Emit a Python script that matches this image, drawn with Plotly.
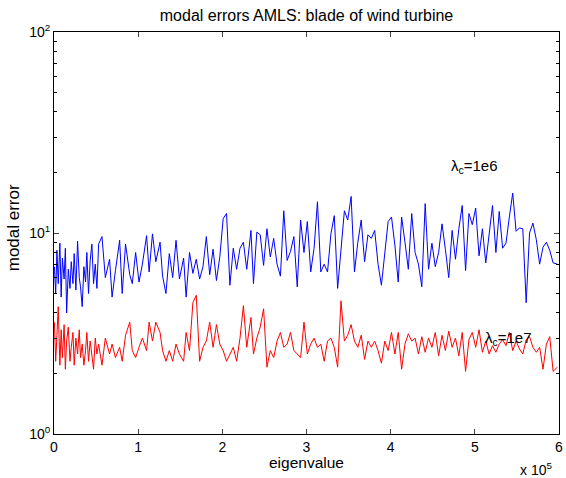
import plotly.graph_objects as go

# eigenvalue positions (in units of 1e5) and modal errors
eig = [0.005, 0.02, 0.035, 0.05, 0.07, 0.085, 0.10, 0.12, 0.135, 0.15,
       0.17, 0.19, 0.205, 0.225, 0.24, 0.26, 0.28, 0.30, 0.315, 0.335,
       0.355, 0.375, 0.39, 0.41, 0.43, 0.45, 0.47, 0.49, 0.51, 0.53,
       0.57, 0.61, 0.66, 0.69, 0.73, 0.78, 0.81, 0.85, 0.90, 0.93,
       0.97, 1.01, 1.05, 1.10, 1.13, 1.17, 1.21, 1.26, 1.29, 1.33,
       1.37, 1.41, 1.45, 1.49, 1.54, 1.57, 1.61, 1.65, 1.69, 1.73,
       1.77, 1.81, 1.85, 1.89, 1.93, 1.97, 2.01, 2.05, 2.09, 2.13,
       2.17, 2.21, 2.25, 2.29, 2.34, 2.37, 2.41, 2.45, 2.49, 2.53,
       2.57, 2.61, 2.65, 2.69, 2.73, 2.77, 2.81, 2.85, 2.89, 2.93,
       2.97, 3.01, 3.05, 3.09, 3.13, 3.17, 3.21, 3.25, 3.29, 3.33,
       3.37, 3.41, 3.45, 3.49, 3.53, 3.57, 3.61, 3.65, 3.69, 3.73,
       3.77, 3.81, 3.85, 3.89, 3.93, 3.97, 4.01, 4.05, 4.09, 4.13,
       4.17, 4.21, 4.25, 4.29, 4.33, 4.37, 4.41, 4.45, 4.49, 4.53,
       4.57, 4.61, 4.65, 4.69, 4.73, 4.77, 4.81, 4.85, 4.89, 4.93,
       4.97, 5.01, 5.05, 5.09, 5.13, 5.17, 5.21, 5.25, 5.29, 5.33,
       5.37, 5.41, 5.45, 5.49, 5.53, 5.57, 5.61, 5.65, 5.69, 5.73,
       5.77, 5.81, 5.85, 5.89, 5.93, 5.98]

err_1e6 = [6.8, 5.0, 8.2, 5.6, 8.9, 4.8, 7.5, 5.9, 8.4, 4.0,
           6.6, 5.3, 7.2, 5.6, 7.9, 5.2, 9.1, 6.0, 5.4, 4.3,
           6.8, 5.7, 8.0, 5.0, 7.3, 8.8, 5.6, 7.0, 5.3, 8.8,
           9.6, 6.0, 7.4, 4.8, 6.5, 9.2, 5.0, 8.8, 6.2, 5.6,
           8.0, 5.7, 7.0, 9.7, 6.4, 9.9, 7.2, 9.0, 6.1, 5.0,
           7.9, 6.0, 9.2, 5.9, 7.5, 4.8, 8.0, 6.3, 7.4, 5.9,
           6.8, 9.6, 6.2, 8.3, 5.8, 7.6, 11.8, 12.5, 5.5, 8.4,
           6.6, 8.4, 9.0, 6.6, 10.3, 5.6, 10.1, 9.8, 6.9, 10.5,
           7.6, 9.4, 7.0, 6.1, 12.9, 7.3, 8.1, 9.6, 5.4, 11.6,
           8.0, 11.4, 6.4, 8.4, 14.3, 6.4, 7.0, 6.4, 9.9, 12.2,
           5.3, 8.4, 12.9, 11.6, 15.2, 6.4, 9.0, 11.6, 7.2, 9.8,
           9.4, 10.3, 7.0, 5.5, 7.8, 11.4, 12.0, 8.7, 5.7, 12.0,
           9.0, 6.6, 12.5, 8.0, 7.0, 5.4, 14.0, 6.6, 8.9, 6.8,
           8.0, 11.1, 8.3, 6.0, 10.3, 7.4, 10.5, 13.7, 6.5, 12.5,
           11.0, 13.3, 7.7, 10.5, 7.1, 9.8, 13.7, 8.0, 12.8, 8.4,
           8.9, 12.0, 15.8, 10.2, 10.6, 10.5, 4.5, 10.0, 11.2, 9.3,
           7.0, 8.5, 9.0, 8.2, 7.1, 7.0]

err_1e7 = [3.6, 2.3, 3.1, 4.3, 2.2, 3.3, 2.4, 3.5, 2.1, 2.9,
           3.4, 2.3, 2.7, 3.2, 2.2, 3.0, 2.5, 3.3, 2.4, 2.8,
           2.2, 2.6, 3.2, 2.3, 2.9, 2.4, 2.1, 3.0, 2.5, 2.8,
           2.2, 3.0, 2.5, 2.8, 2.4, 2.7, 2.3, 3.1, 3.6, 2.6,
           2.4, 2.7, 3.0, 2.6, 3.6, 2.9, 3.6, 3.2, 2.6, 2.3,
           2.6, 2.3, 2.8, 2.5, 2.3, 3.2, 2.6, 4.5, 4.9, 2.3,
           2.7, 2.9, 3.6, 2.7, 3.5, 2.8, 2.6, 2.3, 2.5, 2.7,
           2.3, 3.0, 4.35, 2.7, 3.8, 2.5, 3.0, 3.4, 4.2, 2.15,
           2.6, 2.4, 2.9, 3.2, 2.7, 2.8, 3.2, 2.6, 2.5, 2.4,
           3.6, 2.5, 2.8, 3.0, 2.7, 2.8, 2.3, 2.9, 3.0, 2.7,
           2.15, 4.6, 2.9, 3.1, 3.5, 2.9, 2.7, 3.1, 2.35, 2.9,
           2.7, 2.9, 2.6, 2.25, 2.9, 2.6, 3.2, 2.5, 3.2, 2.1,
           2.8, 3.15, 2.9, 3.0, 2.5, 3.05, 2.55, 3.0, 2.7, 3.2,
           2.45, 3.1, 2.6, 3.25, 2.7, 3.0, 2.45, 3.2, 2.05, 2.95,
           3.2, 2.7, 3.3, 2.55, 2.9, 2.5, 2.75, 2.55, 2.8, 2.95,
           2.75, 3.2, 2.6, 2.9, 2.65, 2.5, 2.95, 3.05, 2.7, 2.55,
           2.7, 2.1, 2.8, 3.05, 2.05, 2.15]

x_ticks = [0, 1, 2, 3, 4, 5, 6]
y_ticks = [1, 10, 100]
y_tick_text = ["10<sup>0</sup>", "10<sup>1</sup>", "10<sup>2</sup>"]
y_minor = [2, 3, 4, 5, 6, 7, 8, 9, 20, 30, 40, 50, 60, 70, 80, 90]

font = "Liberation Sans, Arial, sans-serif"

fig = go.Figure()
fig.add_trace(go.Scatter(x=eig, y=err_1e6, mode="lines",
                         line=dict(color="#0000ff", width=1), showlegend=False))
fig.add_trace(go.Scatter(x=eig, y=err_1e7, mode="lines",
                         line=dict(color="#ff0000", width=1), showlegend=False))
# dummy trace so the minor-tick overlay axis gets drawn
fig.add_trace(go.Scatter(x=[0], y=[1], yaxis="y2", mode="markers",
                         marker=dict(opacity=0), showlegend=False, hoverinfo="skip"))

# curve labels
fig.add_annotation(x=4.69, y=1.33, xref="x", yref="y", text="λ<sub>c</sub>=1e6",
                   showarrow=False, xanchor="left", yanchor="middle",
                   font=dict(size=15, color="black"))
fig.add_annotation(x=5.10, y=0.475, xref="x", yref="y", text="λ<sub>c</sub>=1e7",
                   showarrow=False, xanchor="left", yanchor="middle",
                   font=dict(size=15, color="black"))

# axis titles and exponent, placed like the matlab figure
fig.add_annotation(x=0.5, y=-0.07, xref="paper", yref="paper", text="eigenvalue",
                   showarrow=False, xanchor="center", yanchor="middle",
                   font=dict(size=15.5, color="black"))
fig.add_annotation(x=-0.081, y=0.512, xref="paper", yref="paper", text="modal error",
                   textangle=-90, showarrow=False, xanchor="center", yanchor="middle",
                   font=dict(size=17, color="black"))
fig.add_annotation(x=0.99, y=-0.088, xref="paper", yref="paper", text="x 10<sup>5</sup>",
                   showarrow=False, xanchor="right", yanchor="middle",
                   font=dict(size=14, color="black"))

fig.update_layout(
    width=566, height=478,
    margin=dict(l=54, r=3, t=32, b=44),
    paper_bgcolor="white", plot_bgcolor="white",
    font=dict(family=font, size=14, color="black"),
    title=dict(text="modal errors AMLS: blade of wind turbine", xref="paper", x=0.5,
               xanchor="center", yref="container", y=1 - 15 / 478, yanchor="middle",
               font=dict(size=16)),
    xaxis=dict(range=[0, 6], tickvals=x_ticks, ticks="inside", ticklen=5,
               showline=True, linecolor="black", linewidth=1, mirror="ticks",
               showgrid=False, zeroline=False, tickfont=dict(size=14),
               ticklabeloverflow="allow"),
    yaxis=dict(type="log", range=[0, 2], tickvals=y_ticks, ticktext=y_tick_text,
               ticks="inside", ticklen=5, showline=True, linecolor="black",
               linewidth=1, mirror="ticks", showgrid=False, zeroline=False,
               tickfont=dict(size=14)),
    yaxis2=dict(type="log", range=[0, 2], overlaying="y", side="left",
                tickvals=y_minor, showticklabels=False, ticks="inside", ticklen=3,
                tickcolor="black", mirror="ticks", showline=False,
                showgrid=False, zeroline=False),
)

fig.write_html("out.html", config={"displayModeBar": False},
               post_script="document.body.style.margin='0';")
